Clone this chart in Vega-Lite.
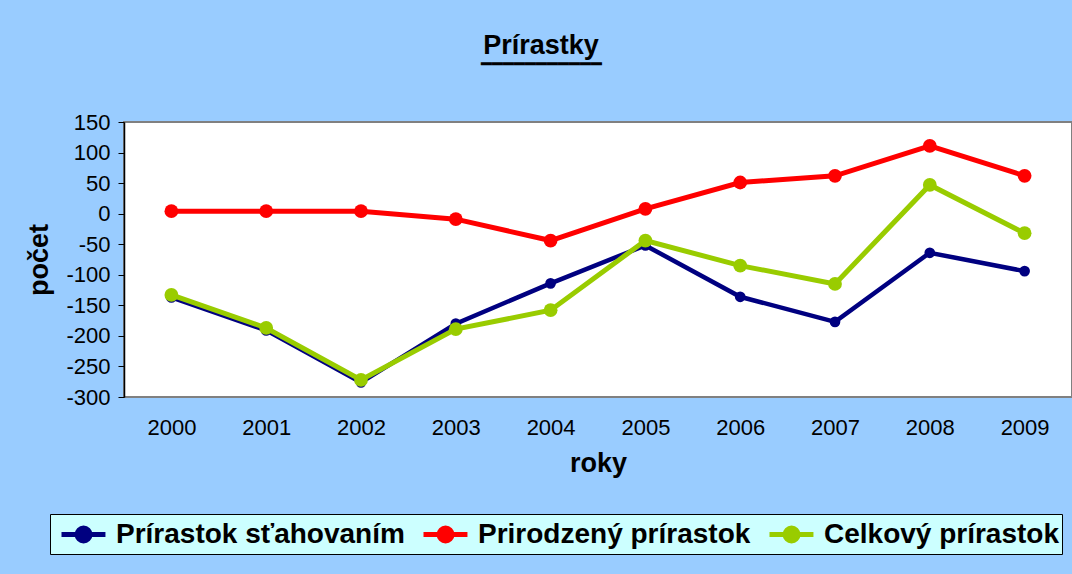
{
  "$schema": "https://vega.github.io/schema/vega-lite/v6.json",
  "autosize": "none",
  "width": 948,
  "height": 275,
  "padding": {"left": 124, "top": 122, "right": 0, "bottom": 177},
  "background": "#99CCFF",
  "config": {
    "font": "Liberation Sans",
    "view": {"fill": "white", "stroke": "#808080", "strokeWidth": 2}
  },
  "title": {
    "text": "Prírastky",
    "subtitle": "━━━━━━━━━━━",
    "fontSize": 27,
    "fontWeight": "bold",
    "color": "black",
    "subtitleFontSize": 18,
    "subtitleColor": "black",
    "subtitlePadding": -4,
    "anchor": "middle",
    "dx": -57,
    "offset": 36
  },
  "data": {
    "values": [
      {"rok": "2000", "typ": "Prírastok sťahovaním", "pocet": -137},
      {"rok": "2001", "typ": "Prírastok sťahovaním", "pocet": -191},
      {"rok": "2002", "typ": "Prírastok sťahovaním", "pocet": -276},
      {"rok": "2003", "typ": "Prírastok sťahovaním", "pocet": -180},
      {"rok": "2004", "typ": "Prírastok sťahovaním", "pocet": -114},
      {"rok": "2005", "typ": "Prírastok sťahovaním", "pocet": -52},
      {"rok": "2006", "typ": "Prírastok sťahovaním", "pocet": -136},
      {"rok": "2007", "typ": "Prírastok sťahovaním", "pocet": -177},
      {"rok": "2008", "typ": "Prírastok sťahovaním", "pocet": -64},
      {"rok": "2009", "typ": "Prírastok sťahovaním", "pocet": -94},
      {"rok": "2000", "typ": "Prirodzený prírastok", "pocet": 4},
      {"rok": "2001", "typ": "Prirodzený prírastok", "pocet": 4},
      {"rok": "2002", "typ": "Prirodzený prírastok", "pocet": 4},
      {"rok": "2003", "typ": "Prirodzený prírastok", "pocet": -9},
      {"rok": "2004", "typ": "Prirodzený prírastok", "pocet": -44},
      {"rok": "2005", "typ": "Prirodzený prírastok", "pocet": 8},
      {"rok": "2006", "typ": "Prirodzený prírastok", "pocet": 51},
      {"rok": "2007", "typ": "Prirodzený prírastok", "pocet": 62},
      {"rok": "2008", "typ": "Prirodzený prírastok", "pocet": 111},
      {"rok": "2009", "typ": "Prirodzený prírastok", "pocet": 62},
      {"rok": "2000", "typ": "Celkový prírastok", "pocet": -133},
      {"rok": "2001", "typ": "Celkový prírastok", "pocet": -187},
      {"rok": "2002", "typ": "Celkový prírastok", "pocet": -272},
      {"rok": "2003", "typ": "Celkový prírastok", "pocet": -189},
      {"rok": "2004", "typ": "Celkový prírastok", "pocet": -158},
      {"rok": "2005", "typ": "Celkový prírastok", "pocet": -44},
      {"rok": "2006", "typ": "Celkový prírastok", "pocet": -85},
      {"rok": "2007", "typ": "Celkový prírastok", "pocet": -115},
      {"rok": "2008", "typ": "Celkový prírastok", "pocet": 47},
      {"rok": "2009", "typ": "Celkový prírastok", "pocet": -32}
    ]
  },
  "encoding": {
    "x": {
      "field": "rok",
      "type": "ordinal",
      "axis": {
        "title": "roky",
        "titleFontSize": 27,
        "titleFontWeight": "bold",
        "titleColor": "black",
        "titlePadding": 12,
        "labelAngle": 0,
        "labelFontSize": 22,
        "labelColor": "black",
        "labelPadding": 20,
        "ticks": false,
        "domain": false
      }
    },
    "y": {
      "field": "pocet",
      "type": "quantitative",
      "scale": {"domain": [-300, 150], "nice": false, "zero": false},
      "axis": {
        "title": "počet",
        "titleFontSize": 27,
        "titleFontWeight": "bold",
        "titleColor": "black",
        "titlePadding": 12,
        "values": [-300, -250, -200, -150, -100, -50, 0, 50, 100, 150],
        "labelExpr": "toString(datum.value)",
        "labelFontSize": 22,
        "labelColor": "black",
        "labelPadding": 8,
        "tickSize": 6,
        "tickColor": "black",
        "domainColor": "black",
        "domainWidth": 1.5,
        "grid": false
      }
    },
    "color": {
      "field": "typ",
      "type": "nominal",
      "scale": {
        "domain": ["Prírastok sťahovaním", "Prirodzený prírastok", "Celkový prírastok"],
        "range": ["#000080", "#FF0000", "#99CC00"]
      },
      "legend": {
        "title": null,
        "orient": "none",
        "legendX": -74,
        "legendY": 392,
        "direction": "horizontal",
        "columns": 3,
        "fillColor": "#CCFFFF",
        "strokeColor": "black",
        "padding": 3,
        "columnPadding": 8,
        "labelFontSize": 28,
        "labelFontWeight": "bold",
        "labelColor": "black",
        "labelOffset": 28,
        "labelLimit": 0,
        "symbolType": "M-0.6,0L2.33,0M0.44,0A0.43,0.43,0,1,0,1.3,0A0.43,0.43,0,1,0,0.44,0Z",
        "symbolSize": 900,
        "symbolStrokeWidth": 5,
        "symbolOpacity": 1
      }
    }
  },
  "layer": [
    {
      "transform": [{"filter": "datum.typ === 'Prírastok sťahovaním'"}],
      "layer": [
        {"mark": {"type": "line", "strokeWidth": 4.5}},
        {"mark": {"type": "point", "filled": true, "opacity": 1, "size": 115}}
      ]
    },
    {
      "transform": [{"filter": "datum.typ === 'Prirodzený prírastok'"}],
      "layer": [
        {"mark": {"type": "line", "strokeWidth": 5}},
        {"mark": {"type": "point", "filled": true, "opacity": 1, "size": 190}}
      ]
    },
    {
      "transform": [{"filter": "datum.typ === 'Celkový prírastok'"}],
      "layer": [
        {"mark": {"type": "line", "strokeWidth": 5}},
        {"mark": {"type": "point", "filled": true, "opacity": 1, "size": 190}}
      ]
    }
  ]
}
